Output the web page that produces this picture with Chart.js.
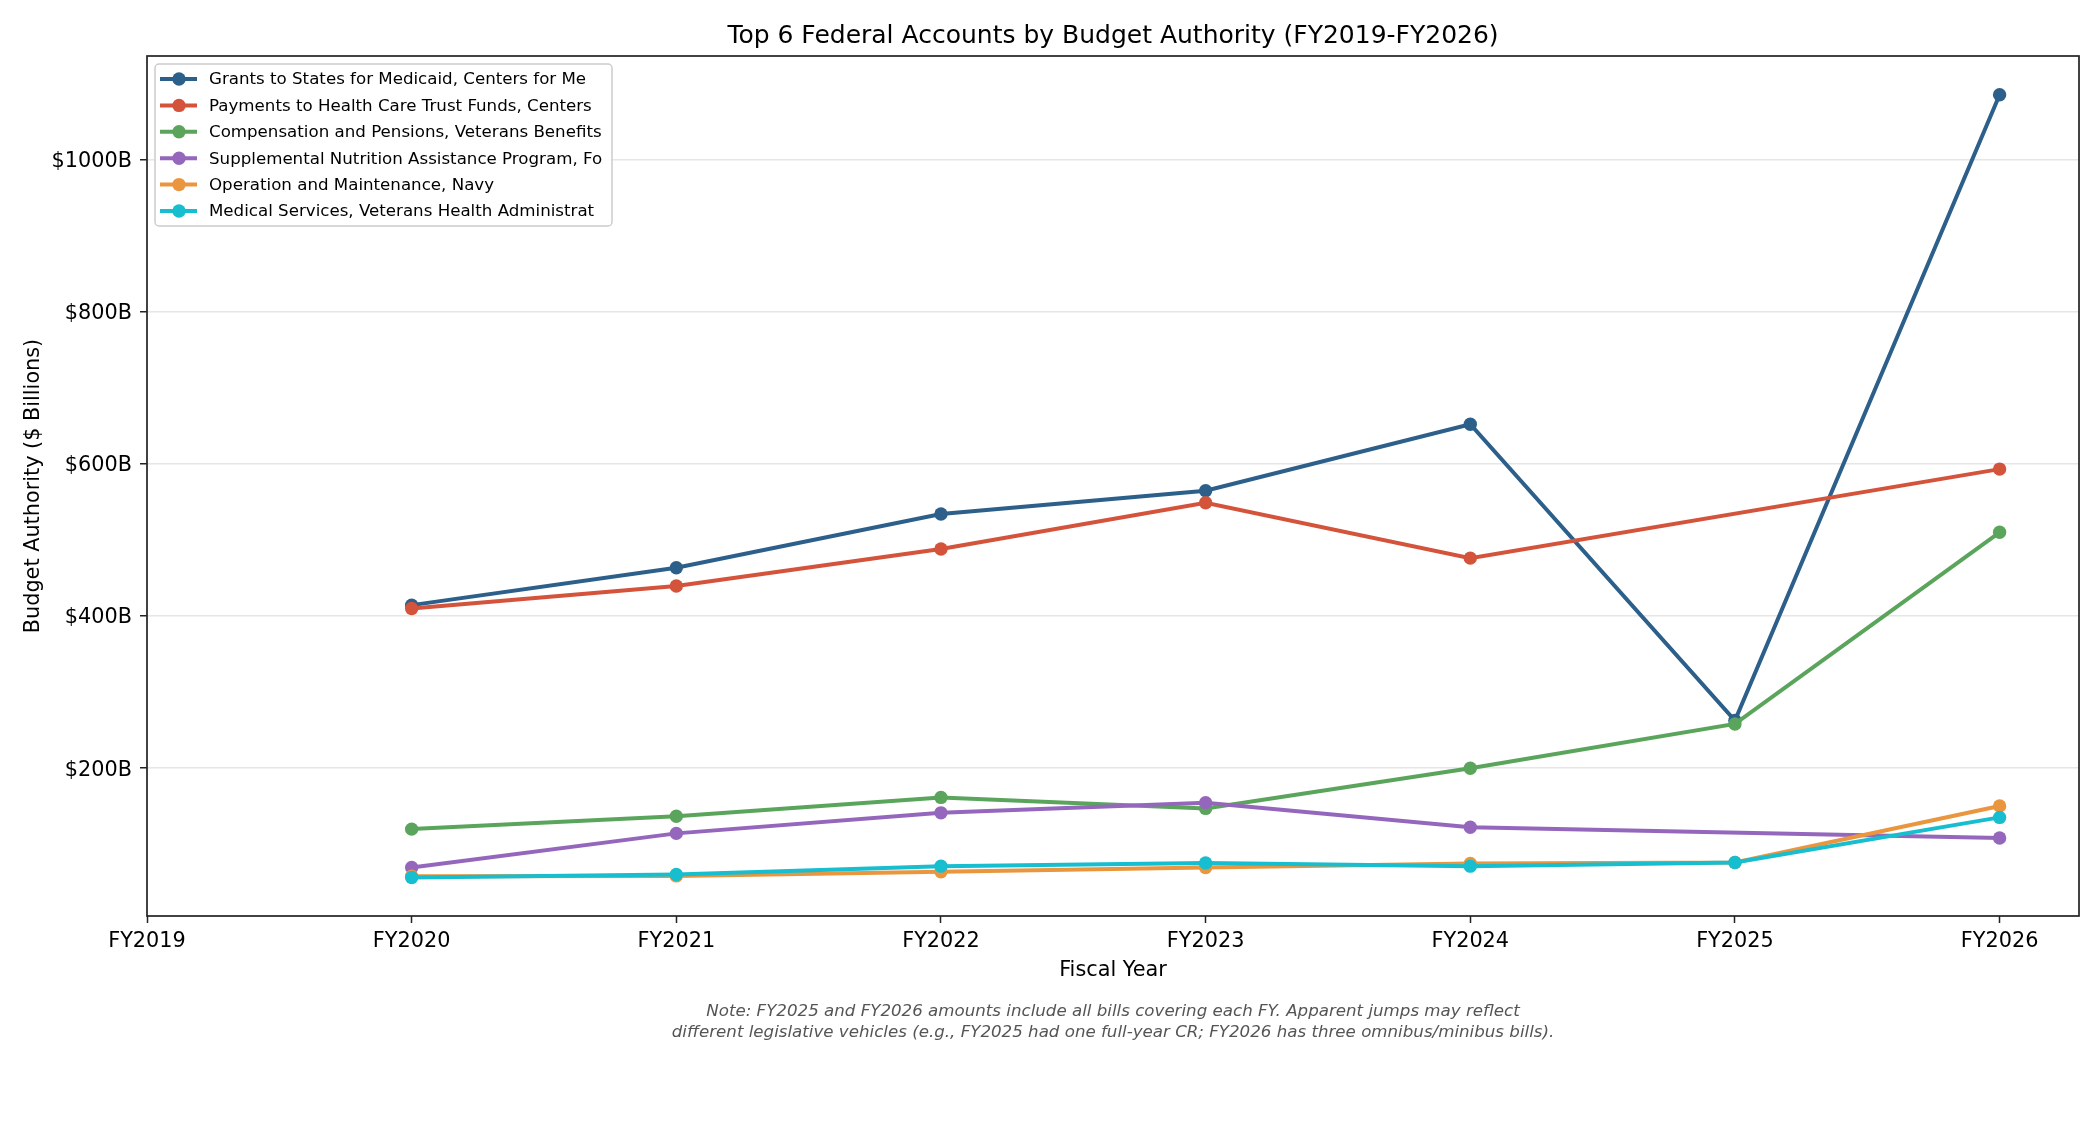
<!DOCTYPE html>
<html>
<head>
<meta charset="utf-8">
<script src="https://cdn.jsdelivr.net/npm/chart.js@4.4.1/dist/chart.umd.min.js"></script>
<style>
  html, body { margin: 0; padding: 0; background: #ffffff; }
  #wrap { width: 2100px; height: 1125px; position: relative; }
</style>
</head>
<body>
<div id="wrap"><canvas id="c" width="2100" height="1125"></canvas></div>
<script>
// ---- Data ----
const fiscalYears = [2020, 2021, 2022, 2023, 2024, 2025, 2026];
const xTickYears = [2019, 2020, 2021, 2022, 2023, 2024, 2025, 2026];
const yTickValues = [200, 400, 600, 800, 1000];

const seriesNames = [
  "Grants to States for Medicaid, Centers for Me",
  "Payments to Health Care Trust Funds, Centers",
  "Compensation and Pensions, Veterans Benefits",
  "Supplemental Nutrition Assistance Program, Fo",
  "Operation and Maintenance, Navy",
  "Medical Services, Veterans Health Administrat"
];
const grantsMedicaid   = [414.2, 463.3, 534.0, 564.5, 652.0, 262.5, 1085.0];
const paymentsTrust    = [409.8, 439.3, 488.0, 548.8, 476.0, null, 593.0];
const compensationVets = [119.8, 136.8, 161.5, 147.0, 199.8, 258.0, 510.0];
const snapProgram      = [69.3, 114.2, 141.2, 154.4, 122.2, null, 108.2];
const navyOandM        = [57.8, 58.3, 63.6, 69.4, 74.6, 75.9, 150.1];
const vhaMedical       = [56.2, 60.2, 71.1, 75.4, 71.1, 75.9, 135.2];

const seriesValues = [grantsMedicaid, paymentsTrust, compensationVets, snapProgram, navyOandM, vhaMedical];
const seriesColors = ["#2d5f8b", "#d4533b", "#5aa55b", "#9467bd", "#e9963e", "#17becf"];

const titleText = "Top 6 Federal Accounts by Budget Authority (FY2019-FY2026)";
const xTitleText = "Fiscal Year";
const yTitleText = "Budget Authority ($ Billions)";
const noteLines = [
  "Note: FY2025 and FY2026 amounts include all bills covering each FY. Apparent jumps may reflect",
  "different legislative vehicles (e.g., FY2025 had one full-year CR; FY2026 has three omnibus/minibus bills)."
];

const FONT = "'DejaVu Sans', 'Liberation Sans', sans-serif";

const datasets = seriesValues.map((vals, i) => ({
  label: seriesNames[i],
  data: fiscalYears.map((yr, j) => ({ x: yr, y: vals[j] })).filter(p => p.y !== null),
  borderColor: seriesColors[i],
  backgroundColor: seriesColors[i],
  pointBackgroundColor: seriesColors[i],
  pointBorderWidth: 0,
  pointRadius: 6.7,
  pointHoverRadius: 6.7,
  borderWidth: 4,
  tension: 0,
  fill: false,
  order: seriesValues.length - i
}));

const decorPlugin = {
  id: 'decor',
  afterDraw(chart) {
    const ctx = chart.ctx;
    const a = chart.chartArea;
    ctx.save();
    // frame
    ctx.strokeStyle = '#222';
    ctx.lineWidth = 1.7;
    ctx.strokeRect(a.left, a.top, a.right - a.left, a.bottom - a.top);

    const cx = (a.left + a.right) / 2;
    // title
    ctx.fillStyle = '#000';
    ctx.textAlign = 'center';
    ctx.textBaseline = 'middle';
    ctx.font = `25px ${FONT}`;
    ctx.fillText(titleText, cx, 36.5);
    // x title
    ctx.font = `20.8px ${FONT}`;
    ctx.fillText(xTitleText, cx, 970.5);
    // y title
    ctx.save();
    ctx.translate(34, (a.top + a.bottom) / 2);
    ctx.rotate(-Math.PI / 2);
    ctx.fillText(yTitleText, 0, 0);
    ctx.restore();
    // note
    ctx.fillStyle = '#555';
    ctx.font = `italic 16.67px ${FONT}`;
    ctx.fillText(noteLines[0], cx, 1011.5);
    ctx.fillText(noteLines[1], cx, 1032.5);

    // legend
    const lx = 155, ly = 64, lw = 457, lh = 162;
    ctx.fillStyle = 'rgba(255,255,255,0.85)';
    ctx.strokeStyle = '#cccccc';
    ctx.lineWidth = 1.5;
    ctx.beginPath();
    if (ctx.roundRect) ctx.roundRect(lx, ly, lw, lh, 4); else ctx.rect(lx, ly, lw, lh);
    ctx.fill();
    ctx.stroke();
    ctx.font = `16.67px ${FONT}`;
    ctx.textAlign = 'left';
    ctx.textBaseline = 'middle';
    chart.data.datasets.forEach((ds, i) => {
      const y = 79 + i * 26.4;
      ctx.strokeStyle = ds.borderColor;
      ctx.lineWidth = 4;
      ctx.beginPath();
      ctx.moveTo(160, y);
      ctx.lineTo(197, y);
      ctx.stroke();
      ctx.fillStyle = ds.borderColor;
      ctx.beginPath();
      ctx.arc(179, y, 6.7, 0, Math.PI * 2);
      ctx.fill();
      ctx.fillStyle = '#000';
      ctx.fillText(ds.label, 209, y + 1);
    });
    ctx.restore();
  }
};

new Chart(document.getElementById('c'), {
  type: 'line',
  data: { datasets },
  plugins: [decorPlugin],
  options: {
    responsive: false,
    animation: false,
    devicePixelRatio: 1,
    layout: { padding: { top: 56, right: 21, left: 0, bottom: 0 } },
    plugins: {
      legend: { display: false },
      title: { display: false },
      tooltip: { enabled: false }
    },
    scales: {
      x: {
        type: 'linear',
        min: 2019,
        max: 2026.3,
        afterBuildTicks: (scale) => { scale.ticks = xTickYears.map(v => ({ value: v })); },
        afterFit: (scale) => { scale.height = 209; },
        border: { display: false },
        grid: { drawOnChartArea: false, drawTicks: true, tickLength: 7, tickColor: '#222', tickWidth: 1.5 },
        ticks: {
          color: '#000',
          font: { family: FONT, size: 20.8 },
          padding: 6.5,
          maxRotation: 0,
          autoSkip: false,
          callback: (v) => 'FY' + v
        }
      },
      y: {
        type: 'linear',
        min: 5.6,
        max: 1136,
        afterBuildTicks: (scale) => { scale.ticks = yTickValues.map(v => ({ value: v })); },
        afterFit: (scale) => { scale.width = 147; },
        border: { display: false },
        grid: { color: '#e6e6e6', lineWidth: 1.5, drawTicks: true, tickLength: 7, tickColor: '#222', tickWidth: 1.5 },
        ticks: {
          color: '#000',
          font: { family: FONT, size: 20.8 },
          padding: 8,
          labelOffset: 2,
          autoSkip: false,
          callback: (v) => '$' + v + 'B'
        }
      }
    }
  }
});
</script>
</body>
</html>
